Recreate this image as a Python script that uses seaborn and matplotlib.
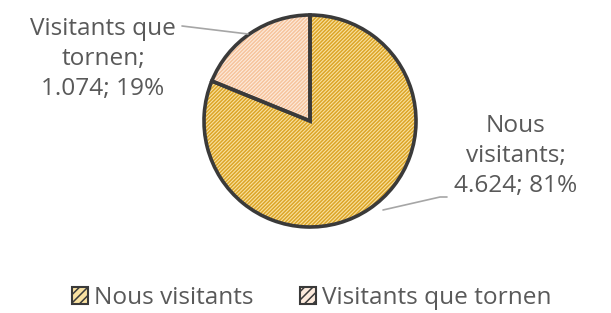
import matplotlib
matplotlib.use('Agg')
import matplotlib.pyplot as plt
import matplotlib.patches as mpatches
import seaborn as sns

# Dades
categories = ['Nous visitants', 'Visitants que tornen']
valors = [4624, 1074]
etiquetes = ['Nous\nvisitants;\n4.624; 81%', 'Visitants que\ntornen;\n1.074; 19%']
colors_fons = ['#F9E2A2', '#FDEBDD']
colors_trama = ['#DCA527', '#F6C49C']

sns.set_theme(style='white')
plt.rcParams['font.family'] = ['Open Sans', 'DejaVu Sans']
plt.rcParams['hatch.linewidth'] = 1.1

W, H = 611, 313
fig = plt.figure(figsize=(W / 100, H / 100), dpi=100)
ax = fig.add_axes([0, 0, 1, 1])

cx, cy, r = 310, 121, 106

# fons + trama
wedges, _ = ax.pie(valors, colors=colors_fons, startangle=-90, counterclock=True,
                   radius=r, center=(cx, cy), frame=True,
                   wedgeprops=dict(linewidth=0))
for w, hc in zip(wedges, colors_trama):
    w.set_hatch('/////////')
    w.set_edgecolor(hc)
    w.set_linewidth(0)
# contorn
ax.pie(valors, colors=['none', 'none'], startangle=-90, counterclock=True,
       radius=r, center=(cx, cy), frame=True,
       wedgeprops=dict(linewidth=2.6, edgecolor='#3a3a3a', fill=False))
ax.set_xlim(0, W)
ax.set_ylim(H, 0)
ax.set_aspect('equal')
ax.axis('off')

gris = '#595959'
mida = 17.6
# etiquetes
ax.text(516, 156, etiquetes[0], ha='center', va='center', fontsize=mida,
        color=gris, linespacing=1.33)
ax.plot([383, 440, 447], [210, 197, 197], color='#A6A6A6', lw=1.2)
ax.text(103, 59, etiquetes[1], ha='center', va='center', fontsize=mida,
        color=gris, linespacing=1.33)
ax.plot([182, 248], [26, 34], color='#A6A6A6', lw=1.2)

handles = [mpatches.Patch(facecolor=f, edgecolor='#3a3a3a', hatch='////', linewidth=1.5)
           for f in colors_fons]
leg = fig.legend(handles, categories, loc='center', ncol=2, frameon=False,
                 bbox_to_anchor=(312 / W, 1 - 298 / H), fontsize=mida, handlelength=0.65,
                 handleheight=0.65, handletextpad=0.25, columnspacing=1.9,
                 borderpad=0, borderaxespad=0)
for t in leg.get_texts():
    t.set_color(gris)

fig.savefig('out.png', dpi=100)
